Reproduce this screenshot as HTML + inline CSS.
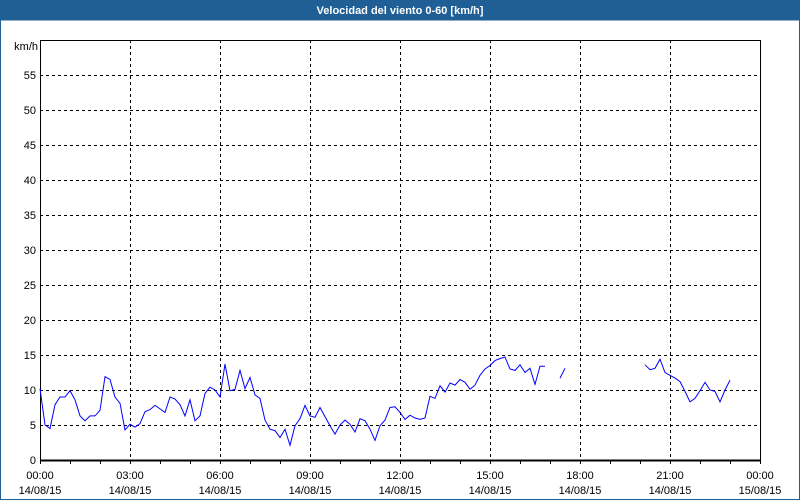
<!DOCTYPE html>
<html><head><meta charset="utf-8"><style>
html,body{margin:0;padding:0;background:#fff;}
#wrap{position:relative;width:800px;height:500px;overflow:hidden;font-family:"Liberation Sans",sans-serif;}
</style></head><body>
<div id="wrap">
<svg id="chart" width="800" height="500" xmlns="http://www.w3.org/2000/svg">
<rect x="0" y="0" width="800" height="20" fill="#1f5f96"/>
<text x="400" y="14" text-anchor="middle" fill="#fff" font-size="11" font-weight="bold" font-family="Liberation Sans, sans-serif">Velocidad del viento 0-60 [km/h]</text>
<rect x="0.5" y="20" width="799" height="479.5" fill="none" stroke="#1f5f96" stroke-width="1"/>
<g id="grid"></g>
<g id="axes"></g>
<g id="series"></g>
</svg>
</div>
<script>
const yTicks=[5,10,15,20,25,30,35,40,45,50,55];
const yTickLabels=["0","5","10","15","20","25","30","35","40","45","50","55"];
const xTickHours=[0,3,6,9,12,15,18,21,24];
const xTimeLabels=["00:00","03:00","06:00","09:00","12:00","15:00","18:00","21:00","00:00"];
const xDateLabels=["14/08/15","14/08/15","14/08/15","14/08/15","14/08/15","14/08/15","14/08/15","14/08/15","15/08/15"];
// wind speed every 10 min (km/h), null = missing
const windSpeed=[10.2,5,4.5,7.9,9,9,9.9,8.6,6.3,5.6,6.3,6.3,7.1,11.9,11.5,9,8.1,4.3,5.1,4.7,5.2,6.9,7.2,7.8,7.3,6.8,9,8.7,7.9,6.3,8.6,5.6,6.3,9.5,10.4,10,9,13.7,9.9,10.1,12.8,10.2,11.8,9.3,8.8,5.7,4.4,4.2,3.2,4.4,2.1,4.9,5.9,
7.8,6.3,6.1,7.5,6.2,4.9,3.7,5,5.7,5.1,4,5.9,5.6,4.4,2.8,4.9,5.7,7.5,7.6,6.8,5.8,6.4,6,5.8,6,9.1,8.8,10.6,9.7,11,10.7,11.5,11.1,10.1,10.7,12.1,13,13.5,14.2,14.5,14.7,13,12.8,13.6,12.5,13.1,10.8,13.4,13.4,
null,null,11.7,13.1,null,null,null,null,null,null,null,null,null,null,null,null,null,null,null,
13.6,12.9,13.1,14.4,12.5,12.1,11.7,11.2,9.8,8.3,8.8,9.9,11.1,10,9.8,8.3,10,11.4,
null,null,null,null,null,null,null];
const L=40,R=760,T=40,B=460,YMAX=60;
const xs=h=>L+(R-L)*h/24;
const ys=v=>B-(B-T)*v/YMAX;
const NS="http://www.w3.org/2000/svg";
function mk(tag,attrs,parent){const e=document.createElementNS(NS,tag);for(const k in attrs)e.setAttribute(k,attrs[k]);parent.appendChild(e);return e;}
const grid=document.getElementById('grid'),axes=document.getElementById('axes'),series=document.getElementById('series');
yTicks.forEach(v=>{const y=Math.round(ys(v))+0.5;
 const g=mk('line',{x1:L,x2:R,y1:y,y2:y,stroke:'#000','stroke-dasharray':'3,3','stroke-width':1},grid);
 
 });
xTickHours.forEach(h=>{if(h===0||h===24)return;const x=Math.round(xs(h))+0.5;
 const g=mk('line',{x1:x,x2:x,y1:T,y2:B,stroke:'#000','stroke-dasharray':'3,3','stroke-width':1},grid);
 
 });
const fr=mk('rect',{x:L+0.5,y:T+0.5,width:R-L,height:B-T,fill:'none',stroke:'#000','stroke-width':1},axes);


const bl=mk('line',{x1:L,x2:R+1,y1:B+0.5,y2:B+0.5,stroke:'#000','stroke-width':2},axes);


for(let h=0;h<=24;h++){const x=Math.round(xs(h))+0.5;
 const t=mk('line',{x1:x,x2:x,y1:B,y2:B+4,stroke:'#000'},axes);
 
 }
yTickLabels.forEach((s,i)=>{const t=mk('text',{x:36,y:ys(i*5)+4,'text-anchor':'end','font-size':11,fill:'#000'},axes);t.textContent=s;
 
 });
const u=mk('text',{x:38,y:50,'text-anchor':'end','font-size':11,fill:'#000'},axes);u.textContent='km/h';


xTickHours.forEach((h,i)=>{const x=xs(h);
 const a=mk('text',{x:x,y:479,'text-anchor':'middle','font-size':11,fill:'#000'},axes);a.textContent=xTimeLabels[i];
 
 
 const b=mk('text',{x:x,y:494,'text-anchor':'middle','font-size':11,fill:'#000'},axes);b.textContent=xDateLabels[i];
 
 });
let d='',pen=false;
windSpeed.forEach((v,i)=>{if(v===null){pen=false;return;}
 const x=xs(i/6),y=ys(v);d+=(pen?'L':'M')+x.toFixed(1)+','+y.toFixed(1);pen=true;});
const p=mk('path',{d:d,fill:'none',stroke:'#0000ff','stroke-width':1},series);


</script>
</body></html>
